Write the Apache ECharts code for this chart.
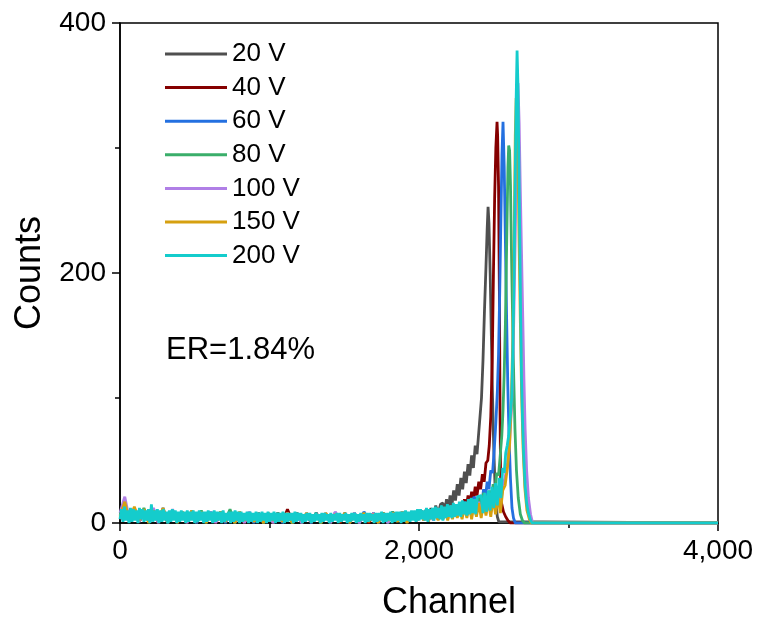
<!DOCTYPE html>
<html><head><meta charset="utf-8">
<script src="https://cdn.jsdelivr.net/npm/echarts@6/dist/echarts.min.js"></script>
<style>html,body{margin:0;padding:0;background:#fff}#c{width:762px;height:626px}</style>
</head><body><div id="c"></div>
<script>
const seriesNames = ['20 V', '40 V', '60 V', '80 V', '100 V', '150 V', '200 V'];
const seriesColors = ['#4f4f4f', '#850000', '#2470e0', '#3aae6a', '#b07fe6', '#d6a010', '#14cccc'];
const xTicks = [0, 2000, 4000];
const yTicks = [0, 200, 400];
const noteText = 'ER=1.84%';

// baseline noise: counts every 32 channels from channel 0 (200 V every 10)
const noiseStep = 32;
const noiseStepFine = 10;

const noise20 = [4, 9, 1, 8, 2, 10, 1, 8, 2, 9, 0, 8, 2, 7, 1, 8, 0, 7, 2, 8, 1, 7, 2, 8, 0, 6, 1, 7, 2, 6, 1, 7, 0, 6, 2, 7, 1, 6, 0, 7, 2, 6, 1, 7, 0, 6, 2, 8, 1, 7, 0, 7, 2, 8, 1, 7, 2, 9, 1, 8, 3, 9, 2];
const noise40 = [3, 8, 2, 9, 1, 8, 2, 9, 0, 8, 1, 9, 2, 7, 0, 8, 1, 7, 2, 8, 0, 7, 1, 8, 2, 7, 0, 8, 1, 7, 2, 7, 0, 8, 1, 11, 2, 6, 1, 7, 0, 8, 2, 7, 1, 8, 0, 7, 2, 6, 1, 7, 0, 7, 2, 8, 1, 7, 2, 8, 1, 9, 2];
const noise60 = [5, 10, 2, 12, 1, 9, 2, 11, 1, 12, 0, 9, 2, 8, 1, 9, 0, 8, 2, 9, 1, 8, 0, 7, 2, 8, 1, 7, 0, 8, 2, 7, 1, 8, 0, 7, 2, 8, 1, 7, 0, 8, 2, 7, 1, 8, 2, 7, 0, 8, 1, 9, 2, 8, 0, 7, 1, 8, 2, 9, 1, 9, 2];
const noise80 = [6, 13, 2, 10, 1, 12, 2, 9, 1, 10, 0, 9, 2, 8, 1, 9, 2, 10, 0, 8, 1, 9, 2, 11, 0, 8, 1, 7, 2, 8, 0, 7, 1, 8, 2, 7, 0, 8, 1, 7, 2, 8, 0, 7, 1, 8, 2, 7, 1, 8, 0, 7, 2, 8, 1, 8, 0, 9, 2, 8, 1, 9, 3];
const noise100 = [8, 21, 2, 11, 1, 10, 2, 12, 0, 9, 2, 11, 1, 9, 0, 10, 2, 8, 1, 9, 0, 8, 2, 7, 1, 8, 0, 9, 2, 7, 1, 8, 0, 7, 2, 8, 1, 7, 0, 8, 2, 7, 1, 8, 0, 9, 2, 7, 1, 8, 0, 7, 2, 8, 1, 7, 0, 8, 2, 9, 1, 8, 2];
const noise150 = [5, 17, 1, 13, 2, 11, 0, 10, 2, 12, 1, 10, 0, 9, 2, 10, 1, 9, 0, 8, 2, 9, 1, 8, 0, 9, 2, 8, 1, 7, 0, 8, 2, 7, 1, 8, 0, 7, 2, 8, 1, 7, 0, 8, 2, 7, 1, 8, 0, 7, 2, 8, 1, 7, 0, 8, 2, 8, 1, 9, 0, 8, 2];
const noise200 = [
  3, 11, 1, 13, 2, 10, 0, 12, 1, 11, 2, 10, 0, 12, 3, 11, 1, 10, 2, 11,
  0, 15, 1, 10, 2, 11, 0, 10, 1, 11, 2, 9, 0, 10, 1, 11, 2, 10, 0, 9,
  1, 10, 2, 9, 0, 10, 1, 9, 2, 10, 0, 9, 1, 10, 2, 9, 0, 9, 1, 10,
  2, 9, 0, 10, 1, 9, 2, 9, 0, 10, 1, 8, 2, 9, 0, 9, 1, 10, 2, 9,
  0, 9, 1, 8, 2, 9, 0, 9, 1, 8, 2, 9, 0, 8, 1, 9, 2, 8, 0, 9,
  1, 8, 2, 9, 0, 8, 1, 8, 2, 9, 0, 8, 1, 8, 2, 8, 0, 9, 1, 8,
  2, 8, 0, 7, 1, 8, 2, 8, 0, 7, 1, 8, 2, 7, 0, 8, 1, 8, 2, 7,
  0, 8, 1, 7, 2, 8, 0, 8, 1, 7, 2, 8, 0, 7, 1, 8, 2, 8, 0, 7,
  1, 8, 2, 7, 0, 8, 1, 8, 2, 7, 0, 8, 1, 8, 2, 9, 0, 8, 1, 8,
  2, 9, 0, 8, 1, 9, 2, 9, 0, 9, 1, 10, 2, 9, 1, 10, 2, 10, 1, 11,
  2, 11, 3, 10, 2, 12, 1, 11, 3, 12, 2, 13, 4, 12, 3, 14, 2, 13, 4, 15,
  5, 14, 4, 16, 5, 15, 6, 17, 5, 18, 7, 17, 6, 19, 7, 20, 8, 19, 7, 21];

// peak regions: [channel, counts]
const peak20 = [[2016, 10], [2032, 3], [2048, 11], [2064, 4], [2080, 12], [2096, 5], [2112, 14], [2128, 7], [2144, 15], [2160, 16], [2172, 8], [2184, 19], [2196, 11], [2208, 22], [2220, 14], [2232, 26], [2244, 18], [2256, 31], [2268, 22], [2280, 36], [2292, 27], [2304, 41], [2316, 32], [2328, 47], [2340, 38], [2352, 54], [2364, 44], [2376, 62], [2388, 55], [2398, 70], [2408, 85], [2418, 100], [2428, 130], [2438, 170], [2448, 205], [2456, 235], [2462, 253], [2468, 240], [2476, 200], [2484, 150], [2492, 100], [2500, 60], [2508, 32], [2516, 14], [2524, 5], [2534, 1], [2545, 0], [4000, 0]];
const peak40 = [[2016, 9], [2032, 3], [2048, 10], [2064, 2], [2080, 9], [2096, 4], [2112, 10], [2128, 3], [2144, 11], [2160, 5], [2176, 12], [2192, 5], [2208, 13], [2224, 7], [2240, 14], [2256, 9], [2272, 16], [2288, 11], [2304, 19], [2316, 12], [2328, 22], [2340, 15], [2352, 25], [2364, 18], [2376, 29], [2388, 22], [2400, 33], [2412, 27], [2424, 39], [2436, 33], [2448, 48], [2460, 50], [2470, 62], [2480, 85], [2490, 130], [2498, 200], [2506, 260], [2514, 300], [2522, 321], [2526, 310], [2532, 270], [2538, 180], [2542, 90], [2546, 35], [2552, 16], [2565, 9], [2580, 5], [2595, 2], [2610, 0], [4000, 0]];
const peak60 = [[2016, 9], [2032, 2], [2048, 10], [2064, 3], [2080, 9], [2096, 2], [2112, 10], [2128, 4], [2144, 11], [2160, 3], [2176, 12], [2192, 5], [2208, 13], [2224, 6], [2240, 14], [2256, 8], [2272, 15], [2288, 9], [2304, 17], [2320, 11], [2336, 19], [2352, 13], [2368, 21], [2384, 18], [2396, 11], [2408, 22], [2420, 15], [2432, 27], [2444, 20], [2456, 33], [2468, 27], [2480, 42], [2492, 40], [2504, 60], [2514, 80], [2524, 105], [2532, 135], [2540, 185], [2548, 245], [2555, 295], [2562, 321], [2570, 285], [2578, 225], [2586, 165], [2594, 110], [2602, 70], [2612, 35], [2622, 12], [2632, 4], [2644, 0], [4000, 0]];
const peak80 = [[2016, 9], [2032, 3], [2048, 10], [2064, 2], [2080, 10], [2096, 4], [2112, 9], [2128, 3], [2144, 11], [2160, 4], [2176, 12], [2192, 5], [2208, 12], [2224, 6], [2240, 13], [2256, 7], [2272, 14], [2288, 8], [2304, 16], [2320, 10], [2336, 17], [2352, 11], [2368, 19], [2384, 13], [2400, 21], [2416, 15], [2432, 24], [2448, 20], [2460, 14], [2472, 26], [2484, 19], [2496, 31], [2508, 25], [2520, 40], [2532, 38], [2544, 55], [2554, 70], [2562, 90], [2570, 120], [2578, 160], [2584, 205], [2590, 250], [2595, 285], [2600, 302], [2606, 298], [2612, 270], [2618, 220], [2626, 165], [2634, 115], [2642, 75], [2652, 42], [2664, 20], [2678, 7], [2692, 2], [2706, 0], [4000, 0]];
const peak100 = [[2016, 9], [2032, 2], [2048, 9], [2064, 3], [2080, 10], [2096, 2], [2112, 9], [2128, 3], [2144, 10], [2160, 4], [2176, 11], [2192, 3], [2208, 11], [2224, 4], [2240, 12], [2256, 5], [2272, 13], [2288, 5], [2304, 14], [2320, 6], [2336, 15], [2352, 6], [2368, 16], [2384, 7], [2400, 17], [2416, 8], [2432, 18], [2448, 8], [2464, 20], [2480, 9], [2496, 22], [2512, 10], [2528, 25], [2544, 12], [2560, 30], [2576, 36], [2592, 48], [2606, 65], [2620, 95], [2632, 150], [2644, 230], [2654, 310], [2662, 352], [2670, 320], [2678, 265], [2686, 215], [2694, 165], [2702, 115], [2710, 75], [2720, 42], [2732, 20], [2746, 7], [2760, 0], [4000, 0]];
const peak150 = [[2016, 8], [2032, 2], [2048, 9], [2064, 1], [2080, 10], [2096, 3], [2112, 9], [2128, 2], [2144, 10], [2160, 3], [2176, 11], [2192, 2], [2208, 11], [2224, 3], [2240, 12], [2256, 4], [2272, 12], [2288, 3], [2304, 13], [2320, 4], [2336, 14], [2352, 3], [2368, 15], [2384, 5], [2400, 16], [2416, 4], [2432, 17], [2448, 6], [2464, 18], [2480, 5], [2496, 20], [2512, 7], [2528, 22], [2544, 8], [2560, 26], [2576, 30], [2592, 45], [2606, 62], [2618, 100], [2628, 150], [2636, 220], [2644, 310], [2650, 340], [2656, 330], [2662, 290], [2670, 220], [2678, 160], [2686, 105], [2696, 60], [2708, 28], [2722, 10], [2738, 3], [2752, 0], [4000, 0]];
const peak200 = [[2416, 22], [2428, 8], [2440, 24], [2452, 9], [2464, 26], [2476, 10], [2488, 29], [2500, 12], [2512, 32], [2524, 14], [2536, 36], [2548, 20], [2560, 44], [2570, 40], [2580, 56], [2590, 62], [2600, 70], [2610, 84], [2620, 100], [2628, 140], [2636, 200], [2644, 280], [2650, 340], [2656, 378], [2662, 350], [2668, 290], [2674, 230], [2680, 165], [2686, 115], [2692, 85], [2700, 55], [2710, 30], [2720, 16], [2732, 8], [2744, 3], [2756, 0], [4000, 0]];

const noiseSets = [noise20, noise40, noise60, noise80, noise100, noise150, noise200];
const noiseSteps = [noiseStep, noiseStep, noiseStep, noiseStep, noiseStep, noiseStep, noiseStepFine];
const peakSets = [peak20, peak40, peak60, peak80, peak100, peak150, peak200];

function buildSeries(noise, step, peak) {
  const first = peak[0][0];
  const pts = [];
  noise.forEach((v, i) => { const ch = i * step; if (ch < first) pts.push([ch, v]); });
  return pts.concat(peak);
}

const FONT = '"Liberation Sans", Arial, sans-serif';
const chart = echarts.init(document.getElementById('c'), null, { renderer: 'canvas' });
chart.setOption({
  animation: false,
  backgroundColor: '#fff',
  grid: { left: 120, top: 23, width: 598, height: 501, show: true, borderColor: '#000', borderWidth: 1.5, backgroundColor: 'transparent' },
  legend: {
    data: seriesNames,
    orient: 'vertical',
    left: 165, top: 41, padding: 0,
    icon: 'rect',
    itemWidth: 62, itemHeight: 3, itemGap: 7.6,
    textStyle: { fontSize: 26, fontFamily: FONT, color: '#000', lineHeight: 26 }
  },
  xAxis: {
    type: 'value', min: xTicks[0], max: xTicks[xTicks.length - 1], interval: xTicks[1] - xTicks[0],
    name: 'Channel', nameLocation: 'middle', nameGap: 62,
    nameTextStyle: { fontSize: 36, fontFamily: FONT, color: '#000', padding: [0, 0, 0, 60] },
    axisLine: { show: true, lineStyle: { color: '#000', width: 1.5 } },
    axisTick: { show: true, length: 8, lineStyle: { color: '#000', width: 1.5 } },
    minorTick: { show: true, splitNumber: 2, length: 5, lineStyle: { color: '#000', width: 1.5 } },
    splitLine: { show: false },
    axisLabel: { fontSize: 28, fontFamily: FONT, color: '#000', margin: 14, formatter: v => v.toLocaleString('en-US') }
  },
  yAxis: {
    type: 'value', min: yTicks[0], max: yTicks[yTicks.length - 1], interval: yTicks[1] - yTicks[0],
    name: 'Counts', nameLocation: 'middle', nameGap: 64,
    nameTextStyle: { fontSize: 36, fontFamily: FONT, color: '#000' },
    axisLine: { show: true, lineStyle: { color: '#000', width: 1.5 } },
    axisTick: { show: true, length: 8, lineStyle: { color: '#000', width: 1.5 } },
    minorTick: { show: true, splitNumber: 2, length: 5, lineStyle: { color: '#000', width: 1.5 } },
    splitLine: { show: false },
    axisLabel: { fontSize: 28, fontFamily: FONT, color: '#000', margin: 14 }
  },
  graphic: [{
    type: 'text', left: 166, top: 335,
    style: { text: noteText, font: '31px ' + FONT, fill: '#000' }
  }],
  series: seriesNames.map((name, i) => ({
    name, type: 'line', symbol: 'none', showSymbol: false, sampling: null,
    color: seriesColors[i],
    lineStyle: { color: seriesColors[i], width: 2.8 },
    data: buildSeries(noiseSets[i], noiseSteps[i], peakSets[i]),
    z: 2 + i
  }))
});
</script>
</body></html>
